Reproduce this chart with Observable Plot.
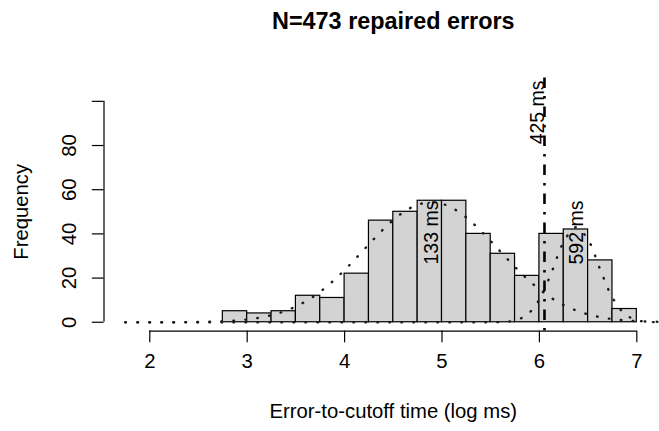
<!DOCTYPE html>
<html>
<head>
<meta charset="utf-8">
<script src="https://cdn.jsdelivr.net/npm/d3@7"></script>
<script src="https://cdn.jsdelivr.net/npm/@observablehq/plot@0.6"></script>
<style>
  html, body { margin: 0; padding: 0; background: #fff; }
</style>
</head>
<body>
<div id="chart"></div>
<script>
// ---- data ----
const titleText = "N=473 repaired errors";
const xLabel = "Error-to-cutoff time (log ms)";
const yLabel = "Frequency";

const breaks = [2.75, 3.0, 3.25, 3.5, 3.75, 4.0, 4.25, 4.5, 4.75, 5.0, 5.25, 5.5, 5.75, 6.0, 6.25, 6.5, 6.75, 7.0];
const counts = [5, 4, 5, 12, 11, 22, 46, 50, 55, 55, 40, 31, 21, 40, 42, 28, 6];

const curveX = [1.75, 1.875, 2.0, 2.125, 2.25, 2.375, 2.5, 2.625, 2.75, 2.875,
  3.0, 3.125, 3.25, 3.375, 3.5, 3.625, 3.75, 3.875, 4.0, 4.125,
  4.25, 4.375, 4.5, 4.625, 4.75, 4.875, 5.0, 5.125, 5.25, 5.375,
  5.5, 5.625, 5.75, 5.875, 6.0, 6.125, 6.25, 6.375, 6.5, 6.625,
  6.75, 6.875, 7.0, 7.125, 7.25];
const fitFast = [0.00, 0.00, 0.01, 0.02, 0.04, 0.07, 0.13, 0.25, 0.44, 0.76,
  1.28, 2.06, 3.22, 4.88, 7.14, 10.11, 13.87, 18.40, 23.63, 29.37,
  35.32, 41.10, 46.28, 50.44, 53.19, 54.29, 53.62, 51.24, 47.39, 42.41,
  36.73, 30.79, 24.97, 19.60, 14.89, 10.94, 7.79, 5.36, 3.57, 2.30,
  1.44, 0.87, 0.51, 0.29, 0.16];
const fitSlow = [0, 0, 0, 0, 0, 0, 0, 0, 0, 0,
  0, 0, 0, 0, 0, 0, 0, 0, 0, 0,
  0, 0, 0, 0, 0, 0, 0, 0, 0, 0,
  0.02, 0.15, 0.85, 3.46, 10.33, 22.63, 36.39, 43.0, 37.30, 23.77,
  11.12, 3.82, 0.96, 0.18, 0.02];

const cutoff = 6.052;           // log(425 ms)
const peakLabelX = [4.89, 6.384];
const peakLabelY = [40.6, 40.6];
const peakLabelText = ["133 ms", "592 ms"];
const cutoffLabelY = 95;
const cutoffLabelText = "425 ms";

const xTicks = [2, 3, 4, 5, 6, 7];
const yTicks = [0, 20, 40, 60, 80, 100];
const yTickLabels = [0, 20, 40, 60, 80];

const xDomain = [1.53, 7.47];
const yDomain = [-4, 104];

// ---- derived tables ----
const bins = counts.map((c, i) => ({x1: breaks[i], x2: breaks[i + 1], n: c}));
const fast = curveX.map((x, i) => ({x, y: fitFast[i]}));
const slow = curveX.map((x, i) => ({x, y: fitSlow[i]}));
const peakLabels = peakLabelText.map((t, i) => ({x: peakLabelX[i], y: peakLabelY[i], t}));

const W = 659, H = 431;
const mL = 103.5, mT = 92, mB = 100.4;
const base = 19.5;
const axisFont = 20.3;

const dotted = {curve: "catmull-rom", stroke: "#1a1a1a", strokeWidth: 2.4, strokeDasharray: "0.6,11.4", strokeLinecap: "round"};

const chart = Plot.plot({
  width: W,
  height: H,
  marginTop: mT,
  marginBottom: mB,
  marginLeft: mL,
  marginRight: 0,
  x: {domain: xDomain, range: [mL, 682.1], axis: null},
  y: {domain: yDomain, axis: null},
  style: {
    fontFamily: "'Liberation Sans', Arial, Helvetica, sans-serif",
    fontSize: base + "px",
    background: "#fff",
    color: "#000",
    overflow: "hidden"
  },
  marks: [
    // histogram bars
    Plot.rectY(bins, {x1: "x1", x2: "x2", y1: 0, y2: "n", fill: "#d3d3d3", stroke: "#000", strokeWidth: 1.2}),
    // fitted component curves (dotted)
    Plot.line(fast, {x: "x", y: "y", ...dotted}),
    Plot.line(slow, {x: "x", y: "y", ...dotted}),
    // cutoff dot-dash line
    Plot.ruleX([cutoff], {x: d => d, y1: yDomain[0], y2: 111.6, stroke: "#000", strokeWidth: 2.6, strokeDasharray: "2.6,7.9,10.6,7.9"}),
    // labels
    Plot.text(peakLabels, {x: "x", y: "y", text: "t", rotate: -90, fontSize: base, fill: "#000", textAnchor: "middle", lineAnchor: "middle"}),
    Plot.text([cutoffLabelText], {x: () => cutoff, y: () => cutoffLabelY, text: d => d, dx: -6.5, rotate: -90, fontSize: base, fill: "#000", textAnchor: "middle", lineAnchor: "middle"}),
    // x axis
    Plot.ruleY([yDomain[0]], {x1: xTicks[0], x2: xTicks[xTicks.length - 1], stroke: "#000", strokeWidth: 1.2}),
    Plot.axisX({ticks: xTicks, tickSize: 11.7, tickPadding: 11, tickFormat: d => String(d), label: null, fontSize: axisFont, stroke: "#000", strokeWidth: 1.2}),
    // y axis
    Plot.ruleX([xDomain[0]], {x: d => d, y1: yTicks[0], y2: yTicks[yTicks.length - 1], stroke: "#000", strokeWidth: 1.2}),
    Plot.axisY({ticks: yTicks, tickSize: 11.7, tickFormat: () => "", label: null, stroke: "#000", strokeWidth: 1.2}),
    Plot.text(yTickLabels, {y: d => d, text: d => String(d), frameAnchor: "left", dx: -35, rotate: -90, fontSize: axisFont, textAnchor: "middle", lineAnchor: "middle"}),
    // title and axis titles
    Plot.text([titleText], {x: () => (xDomain[0] + xDomain[1]) / 2, text: d => d, frameAnchor: "top", dy: -71.4, fontSize: base * 1.2, fontWeight: "bold", textAnchor: "middle", lineAnchor: "middle"}),
    Plot.text([xLabel], {x: () => (xDomain[0] + xDomain[1]) / 2, text: d => d, frameAnchor: "bottom", dy: 80.7, fontSize: axisFont, textAnchor: "middle", lineAnchor: "middle"}),
    Plot.text([yLabel], {y: () => (yDomain[0] + yDomain[1]) / 2, text: d => d, frameAnchor: "left", dx: -83, rotate: -90, fontSize: axisFont, textAnchor: "middle", lineAnchor: "middle"})
  ]
});

document.getElementById("chart").appendChild(chart);
</script>
</body>
</html>
